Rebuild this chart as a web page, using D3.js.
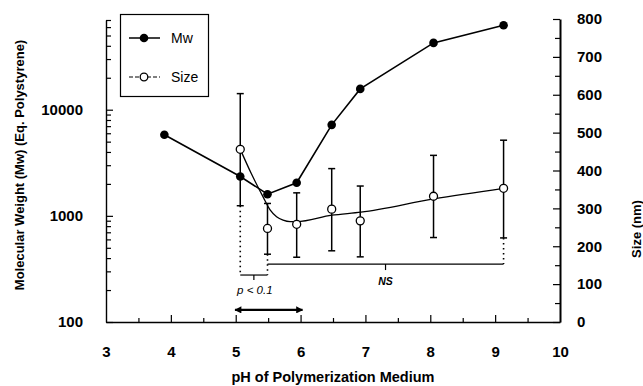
<!DOCTYPE html>
<html>
<head>
<meta charset="utf-8">
<script src="https://cdn.jsdelivr.net/npm/d3@7/dist/d3.min.js"></script>
<style>
body { margin: 0; background: #fff; }
svg { display: block; font-family: "Liberation Sans", Arial, sans-serif; }
</style>
</head>
<body>
<div id="chart"></div>
<script>
// Mw (left, log) vs pH
const mwPh = [3.9, 5.07, 5.49, 5.94, 6.48, 6.92, 8.05, 9.13];
const mwValues = [5800, 2350, 1600, 2050, 7200, 15700, 42600, 62400];

// particle size (right axis) with error bars
const sizePh = [5.07, 5.49, 5.94, 6.48, 6.92, 8.05, 9.13];
const sizeValues = [456, 247, 258, 298, 267, 332, 353];
const sizeUpper = [603, 313, 341, 405, 359, 440, 480];
const sizeLower = [307, 179, 171, 188, 172, 223, 222];

// smooth fit drawn through the size data
const fitPh = [5.07, 5.24, 5.42, 5.53, 5.63, 5.73, 5.84, 5.94, 6.48, 6.93, 8.05, 9.13];
const fitSize = [456, 392, 331, 296, 278, 269, 265, 265, 282, 290, 325, 353];

// tick labels
const xTicks = [3, 4, 5, 6, 7, 8, 9, 10];
const leftTicks = [100, 1000, 10000];
const rightTicks = [0, 100, 200, 300, 400, 500, 600, 700, 800];

const width = 643, height = 386;
const TICK_FONT = "15px";

var x = d3.scaleLinear().domain([3, 10]).range([106, 560]);
var yMw = d3.scaleLog().domain([100, 70000]).range([322, 20]);
var ySize = d3.scaleLinear().domain([0, 800]).range([322, 19]);

const svg = d3.select("#chart").append("svg")
    .attr("width", width)
    .attr("height", height);

// arrowhead for the pH range arrow
svg.append("defs").append("marker")
    .attr("id", "head")
    .attr("viewBox", "0 0 10 10")
    .attr("refX", 9).attr("refY", 5)
    .attr("markerWidth", 4).attr("markerHeight", 3.2)
    .attr("orient", "auto-start-reverse")
    .append("path")
    .attr("d", "M0,0L10,5L0,10z")
    .attr("fill", "#000");

function styleAxis(g, fontSize) {
    g.selectAll("path.domain").attr("stroke", "#000").attr("stroke-width", 1.4);
    g.selectAll(".tick line").attr("stroke", "#000").attr("stroke-width", 1.2);
    g.selectAll("text")
        .attr("fill", "#000")
        .style("font-size", fontSize)
        .style("font-weight", "bold");
}

// bottom axis
var gx = svg.append("g")
    .attr("transform", "translate(0,322)")
    .call(d3.axisBottom(x).tickValues(xTicks).tickSizeInner(-7).tickSizeOuter(0).tickPadding(24).tickFormat(d3.format("d")));
styleAxis(gx, TICK_FONT);
gx.selectAll(".tick").filter(d => d === 3 || d === 10).select("line").remove();

var gxMinor = svg.append("g")
    .attr("transform", "translate(0,322)")
    .call(d3.axisBottom(x).tickValues(d3.range(3.5, 10, 1)).tickSize(-4).tickFormat(""));
gxMinor.select(".domain").remove();
styleAxis(gxMinor, TICK_FONT);

// left log axis
var gl = svg.append("g")
    .attr("transform", "translate(106,0)")
    .call(d3.axisLeft(yMw).tickValues(leftTicks).tickSizeInner(-7).tickSizeOuter(0).tickPadding(23).tickFormat(d3.format("d")));
styleAxis(gl, TICK_FONT);

var minorMw = yMw.ticks().filter(d => leftTicks.indexOf(d) < 0);
var glMinor = svg.append("g")
    .attr("transform", "translate(106,0)")
    .call(d3.axisLeft(yMw).tickValues(minorMw).tickSize(-5).tickFormat(""));
glMinor.select(".domain").remove();
styleAxis(glMinor, TICK_FONT);

// right axis
var gr = svg.append("g")
    .attr("transform", "translate(560,0)")
    .call(d3.axisRight(ySize).tickValues(rightTicks).tickSizeInner(-7).tickSizeOuter(0).tickPadding(17));
styleAxis(gr, TICK_FONT);
gr.select(".domain").attr("stroke-width", 2);

var grMinor = svg.append("g")
    .attr("transform", "translate(560,0)")
    .call(d3.axisRight(ySize).tickValues(d3.range(50, 800, 100)).tickSize(-5).tickFormat(""));
grMinor.select(".domain").remove();
styleAxis(grMinor, TICK_FONT);

// axis titles
svg.append("text")
    .attr("x", 333).attr("y", 382)
    .attr("text-anchor", "middle")
    .style("font-size", "14.5px").style("font-weight", "bold")
    .text("pH of Polymerization Medium");

svg.append("text")
    .attr("transform", "translate(24,165) rotate(-90)")
    .attr("text-anchor", "middle")
    .style("font-size", "13px").style("font-weight", "bold")
    .text("Molecular Weight (Mw) (Eq. Polystyrene)");

svg.append("text")
    .attr("transform", "translate(640.5,229) rotate(-90)")
    .attr("text-anchor", "middle")
    .style("font-size", "13px").style("font-weight", "bold")
    .text("Size (nm)");

// annotations: significance brackets
const dotted = "1.5,3.5";
function seg(x1, y1, x2, y2, dash, w) {
    svg.append("line")
        .attr("x1", x1).attr("y1", y1).attr("x2", x2).attr("y2", y2)
        .attr("stroke", "#000")
        .attr("stroke-width", w || 1.2)
        .attr("stroke-dasharray", dash || null);
}

const pLevel = 124, nsLevel = 153;
seg(x(sizePh[0]), ySize(sizeLower[0]), x(sizePh[0]), ySize(pLevel), dotted, 1.6);
seg(x(sizePh[1]), ySize(sizeLower[1]), x(sizePh[1]), ySize(pLevel), dotted, 1.6);
seg(x(sizePh[6]), ySize(sizeLower[6]), x(sizePh[6]), ySize(nsLevel), dotted, 1.6);

seg(x(sizePh[0]), ySize(pLevel), x(sizePh[1]), ySize(pLevel));
var pMid = (x(sizePh[0]) + x(sizePh[1])) / 2;
seg(pMid, ySize(pLevel), pMid, ySize(pLevel) + 5);
svg.append("text")
    .attr("x", pMid + 1).attr("y", 294)
    .attr("text-anchor", "middle")
    .style("font-size", "11.5px").style("font-style", "italic")
    .text("p < 0.1");

seg(x(sizePh[1]), ySize(nsLevel), x(sizePh[6]), ySize(nsLevel));
var nsMid = (x(sizePh[1]) + x(sizePh[6])) / 2;
seg(nsMid, ySize(nsLevel), nsMid, ySize(nsLevel) + 6);
svg.append("text")
    .attr("x", nsMid).attr("y", 285)
    .attr("text-anchor", "middle")
    .style("font-size", "10.5px").style("font-style", "italic").style("font-weight", "bold")
    .text("NS");

// pH range arrow
svg.append("line")
    .attr("x1", x(4.99)).attr("x2", x(6.03))
    .attr("y1", ySize(32)).attr("y2", ySize(32))
    .attr("stroke", "#000").attr("stroke-width", 2.2)
    .attr("marker-start", "url(#head)")
    .attr("marker-end", "url(#head)");

// size error bars
const sizeData = sizePh.map((p, i) => ({ ph: p, size: sizeValues[i], hi: sizeUpper[i], lo: sizeLower[i] }));
const capW = 3.5;
var bars = svg.append("g").attr("stroke", "#000").attr("stroke-width", 1.5);
sizeData.forEach(function (d) {
    bars.append("line").attr("x1", x(d.ph)).attr("x2", x(d.ph)).attr("y1", ySize(d.hi)).attr("y2", ySize(d.lo));
    bars.append("line").attr("x1", x(d.ph) - capW).attr("x2", x(d.ph) + capW).attr("y1", ySize(d.hi)).attr("y2", ySize(d.hi));
    bars.append("line").attr("x1", x(d.ph) - capW).attr("x2", x(d.ph) + capW).attr("y1", ySize(d.lo)).attr("y2", ySize(d.lo));
});

// smooth fit for size
const fitData = fitPh.map((p, i) => ({ ph: p, size: fitSize[i] }));
svg.append("path")
    .datum(fitData)
    .attr("fill", "none")
    .attr("stroke", "#000")
    .attr("stroke-width", 1.3)
    .attr("d", d3.line().curve(d3.curveMonotoneX)
        .x(d => x(d.ph)).y(d => ySize(d.size)));

// Mw line
const mwData = mwPh.map((p, i) => ({ ph: p, mw: mwValues[i] }));
svg.append("path")
    .datum(mwData)
    .attr("fill", "none")
    .attr("stroke", "#000")
    .attr("stroke-width", 1.6)
    .attr("d", d3.line().x(d => x(d.ph)).y(d => yMw(d.mw)));

svg.selectAll("circle.mw")
    .data(mwData)
    .enter().append("circle")
    .attr("class", "mw")
    .attr("cx", d => x(d.ph))
    .attr("cy", d => yMw(d.mw))
    .attr("r", 4.3)
    .attr("fill", "#000");

svg.selectAll("circle.size")
    .data(sizeData)
    .enter().append("circle")
    .attr("class", "size")
    .attr("cx", d => x(d.ph))
    .attr("cy", d => ySize(d.size))
    .attr("r", 4)
    .attr("fill", "#fff")
    .attr("stroke", "#000")
    .attr("stroke-width", 1.3);

// legend
var legend = svg.append("g");
legend.append("rect")
    .attr("x", 120.5).attr("y", 14.5)
    .attr("width", 88).attr("height", 82)
    .attr("fill", "#fff")
    .attr("stroke", "#000").attr("stroke-width", 1.2);

legend.append("line").attr("x1", 129).attr("x2", 160).attr("y1", 38).attr("y2", 38)
    .attr("stroke", "#000").attr("stroke-width", 1.5);
legend.append("circle").attr("cx", 144).attr("cy", 38).attr("r", 4.3).attr("fill", "#000");
legend.append("text").attr("x", 171).attr("y", 43).style("font-size", "14px").text("Mw");

legend.append("line").attr("x1", 129).attr("x2", 160).attr("y1", 77).attr("y2", 77)
    .attr("stroke", "#000").attr("stroke-width", 1.2).attr("stroke-dasharray", "4,2");
legend.append("circle").attr("cx", 144).attr("cy", 77).attr("r", 3.8)
    .attr("fill", "#fff").attr("stroke", "#000").attr("stroke-width", 1.3);
legend.append("text").attr("x", 171).attr("y", 82).style("font-size", "14px").text("Size");
</script>
</body>
</html>
